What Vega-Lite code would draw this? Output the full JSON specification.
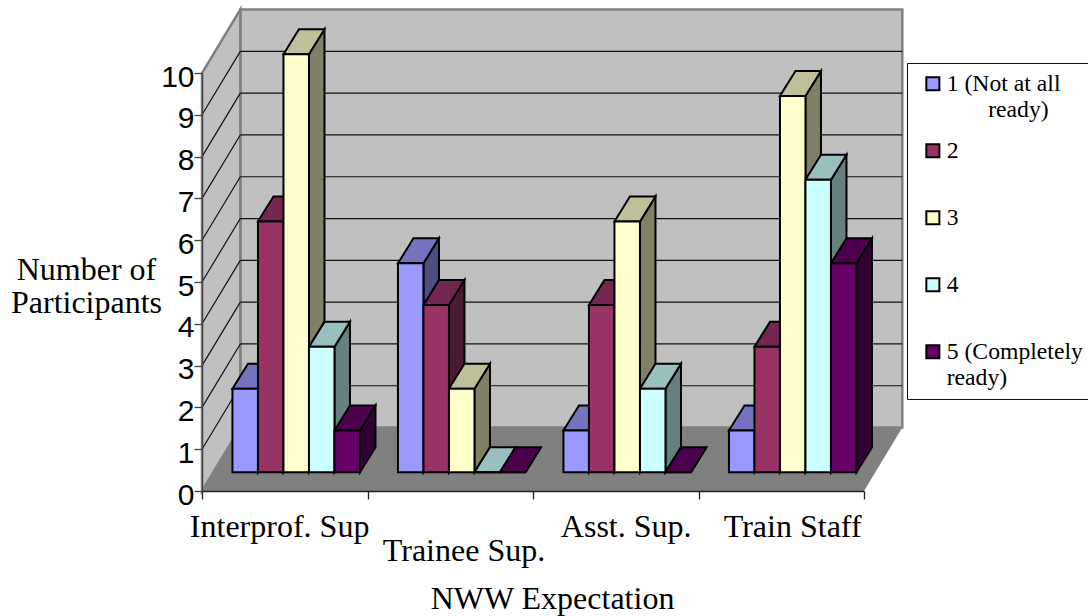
{
  "$schema": "https://vega.github.io/schema/vega-lite/v6.json",
  "width": 662,
  "height": 418,
  "autosize": "none",
  "padding": {"left": 202, "top": 73, "right": 224, "bottom": 125},
  "background": "white",
  "config": {"view": {"stroke": null}},
  "params": [
    {"name": "wallDx", "value": 0.2315},
    {"name": "wallDy", "value": 1.518},
    {"name": "groupStart", "value": 0.184},
    {"name": "barW", "value": 0.1541},
    {"name": "barBase", "value": 0.448},
    {"name": "barDx", "value": 0.0937},
    {"name": "barDy", "value": 0.5985}
  ],
  "datasets": {
    "planes": [{"depth": 0}, {"depth": 1}],
    "levels": [{"level": 1}, {"level": 2}, {"level": 3}, {"level": 4}, {"level": 5}, {"level": 6}, {"level": 7}, {"level": 8}, {"level": 9}],
    "bars": [
      {"expectation": "Interprof. Sup", "group": 0, "rating": 1, "participants": 2},
      {"expectation": "Interprof. Sup", "group": 0, "rating": 2, "participants": 6},
      {"expectation": "Interprof. Sup", "group": 0, "rating": 3, "participants": 10},
      {"expectation": "Interprof. Sup", "group": 0, "rating": 4, "participants": 3},
      {"expectation": "Interprof. Sup", "group": 0, "rating": 5, "participants": 1},
      {"expectation": "Trainee Sup.", "group": 1, "rating": 1, "participants": 5},
      {"expectation": "Trainee Sup.", "group": 1, "rating": 2, "participants": 4},
      {"expectation": "Trainee Sup.", "group": 1, "rating": 3, "participants": 2},
      {"expectation": "Trainee Sup.", "group": 1, "rating": 4, "participants": 0},
      {"expectation": "Trainee Sup.", "group": 1, "rating": 5, "participants": 0},
      {"expectation": "Asst. Sup.", "group": 2, "rating": 1, "participants": 1},
      {"expectation": "Asst. Sup.", "group": 2, "rating": 2, "participants": 4},
      {"expectation": "Asst. Sup.", "group": 2, "rating": 3, "participants": 6},
      {"expectation": "Asst. Sup.", "group": 2, "rating": 4, "participants": 2},
      {"expectation": "Asst. Sup.", "group": 2, "rating": 5, "participants": 0},
      {"expectation": "Train Staff", "group": 3, "rating": 1, "participants": 1},
      {"expectation": "Train Staff", "group": 3, "rating": 2, "participants": 3},
      {"expectation": "Train Staff", "group": 3, "rating": 3, "participants": 9},
      {"expectation": "Train Staff", "group": 3, "rating": 4, "participants": 7},
      {"expectation": "Train Staff", "group": 3, "rating": 5, "participants": 5}
    ]
  },
  "encoding": {
    "x": {
      "field": "x",
      "type": "quantitative",
      "stack": null,
      "scale": {"domain": [0, 4], "nice": false, "zero": false},
      "axis": {
        "values": [0, 0.466, 1, 1.58, 2, 2.56, 3, 3.566, 4],
        "labelExpr": "datum.value == 0.466 ? 'Interprof. Sup' : datum.value == 1.58 ? 'Trainee Sup.' : datum.value == 2.56 ? 'Asst. Sup.' : datum.value == 3.566 ? 'Train Staff' : ''",
        "labelFont": "Liberation Serif",
        "labelFontSize": 32,
        "labelColor": "black",
        "labelOverlap": false,
        "labelBound": false,
        "labelFlush": false,
        "labelPadding": {"condition": {"test": "datum.value == 1.58", "value": 61}, "value": 37},
        "labelBaseline": "alphabetic",
        "labelAngle": 0,
        "tickSize": 8,
        "tickWidth": 1.3,
        "tickColor": "#222222",
        "tickOpacity": {"condition": {"test": "datum.value % 1 == 0", "value": 1}, "value": 0},
        "domainColor": "#222222",
        "domainWidth": 1.3,
        "grid": false,
        "zindex": 1,
        "title": "NWW Expectation",
        "titleFont": "Liberation Serif",
        "titleFontSize": 32,
        "titleFontWeight": "normal",
        "titleColor": "black",
        "titleX": 350,
        "titleY": 117,
        "titleBaseline": "alphabetic",
        "titleAlign": "center"
      }
    },
    "y": {
      "field": "y",
      "type": "quantitative",
      "stack": null,
      "scale": {"domain": [0, 10], "nice": false, "zero": false},
      "axis": {
        "values": [0, 1, 2, 3, 4, 5, 6, 7, 8, 9, 10],
        "format": "d",
        "labelFont": "Liberation Sans",
        "labelFontSize": 30,
        "labelColor": "black",
        "labelPadding": 0,
        "labelOffset": 4,
        "labelOverlap": false,
        "labelBound": false,
        "labelFlush": false,
        "tickSize": 8,
        "tickWidth": 1.3,
        "tickColor": "#444444",
        "domainColor": "#444444",
        "domainWidth": 1.3,
        "grid": false,
        "zindex": 1,
        "title": ["Number of", "Participants"],
        "titleFont": "Liberation Serif",
        "titleFontSize": 32,
        "titleFontWeight": "normal",
        "titleColor": "black",
        "titleAngle": 0,
        "titleX": -116,
        "titleY": 206,
        "titleAlign": "center",
        "titleBaseline": "alphabetic",
        "titleLineHeight": 33
      }
    }
  },
  "resolve": {"scale": {"fill": "independent"}},
  "layer": [
    {
      "name": "backWall",
      "data": {"name": "planes"},
      "transform": [
        {"filter": "datum.depth == 1"},
        {"calculate": "wallDx", "as": "x"},
        {"calculate": "4 + wallDx", "as": "x2"},
        {"calculate": "wallDy", "as": "y"},
        {"calculate": "10 + wallDy", "as": "y2"}
      ],
      "mark": {"type": "rect", "fill": "#C0C0C0", "stroke": "#808080", "strokeWidth": 2.5},
      "encoding": {"x2": {"field": "x2"}, "y2": {"field": "y2"}}
    },
    {
      "name": "leftWall",
      "data": {"name": "planes"},
      "transform": [
        {"calculate": "datum.depth * wallDx", "as": "x"},
        {"calculate": "datum.depth * wallDy", "as": "y"},
        {"calculate": "10 + datum.depth * wallDy", "as": "y2"}
      ],
      "mark": {"type": "area", "fill": "#C0C0C0", "stroke": "#808080", "strokeWidth": 2.5, "opacity": 1},
      "encoding": {"y2": {"field": "y2"}}
    },
    {
      "name": "floor",
      "data": {"name": "planes"},
      "transform": [
        {"calculate": "datum.depth * wallDx", "as": "x"},
        {"calculate": "4 + datum.depth * wallDx", "as": "x2"},
        {"calculate": "datum.depth * wallDy", "as": "y"}
      ],
      "mark": {"type": "area", "orient": "horizontal", "fill": "#808080", "opacity": 1},
      "encoding": {"x2": {"field": "x2"}}
    },
    {
      "name": "backGrid",
      "data": {"name": "levels"},
      "transform": [
        {"calculate": "wallDx", "as": "x"},
        {"calculate": "4 + wallDx", "as": "x2"},
        {"calculate": "datum.level + wallDy", "as": "y"}
      ],
      "mark": {"type": "rule", "color": "#111111", "strokeWidth": 1.2},
      "encoding": {"x2": {"field": "x2"}}
    },
    {
      "name": "sideGrid",
      "data": {"name": "levels"},
      "transform": [
        {"calculate": "0", "as": "x"},
        {"calculate": "wallDx", "as": "x2"},
        {"calculate": "datum.level", "as": "y"},
        {"calculate": "datum.level + wallDy", "as": "y2"}
      ],
      "mark": {"type": "rule", "color": "#111111", "strokeWidth": 1.2},
      "encoding": {"x2": {"field": "x2"}, "y2": {"field": "y2"}}
    },
    {
      "name": "barSides",
      "data": {"name": "bars"},
      "transform": [
        {"calculate": "[0, 1]", "as": "corner"},
        {"flatten": ["corner"]},
        {"calculate": "datum.group + groupStart + datum.rating * barW + datum.corner * barDx", "as": "x"},
        {"calculate": "barBase + datum.corner * barDy", "as": "y"},
        {"calculate": "barBase + datum.participants + datum.corner * barDy", "as": "y2"}
      ],
      "mark": {"type": "area", "stroke": "black", "strokeWidth": 2, "strokeJoin": "miter", "opacity": 1},
      "encoding": {
        "y2": {"field": "y2"},
        "detail": {"field": "group", "type": "nominal"},
        "fill": {
          "field": "rating",
          "type": "nominal",
          "legend": null,
          "scale": {"domain": [1, 2, 3, 4, 5], "range": ["#4D4D80", "#4D1A33", "#808066", "#668080", "#330033"]}
        }
      }
    },
    {
      "name": "barTops",
      "data": {"name": "bars"},
      "transform": [
        {"calculate": "[0, 1]", "as": "corner"},
        {"flatten": ["corner"]},
        {"calculate": "datum.group + groupStart + (datum.rating - 1) * barW + datum.corner * barDx", "as": "x"},
        {"calculate": "datum.group + groupStart + datum.rating * barW + datum.corner * barDx", "as": "x2"},
        {"calculate": "barBase + datum.participants + datum.corner * barDy", "as": "y"}
      ],
      "mark": {"type": "area", "orient": "horizontal", "stroke": "black", "strokeWidth": 2, "strokeJoin": "miter", "opacity": 1},
      "encoding": {
        "x2": {"field": "x2"},
        "detail": {"field": "group", "type": "nominal"},
        "fill": {
          "field": "rating",
          "type": "nominal",
          "legend": null,
          "scale": {"domain": [1, 2, 3, 4, 5], "range": ["#7373BF", "#732650", "#BFBF99", "#99BFBF", "#4D004D"]}
        }
      }
    },
    {
      "name": "barFronts",
      "data": {"name": "bars"},
      "transform": [
        {"calculate": "datum.group + groupStart + (datum.rating - 1) * barW", "as": "x"},
        {"calculate": "datum.group + groupStart + datum.rating * barW", "as": "x2"},
        {"calculate": "barBase", "as": "y"},
        {"calculate": "barBase + datum.participants", "as": "y2"}
      ],
      "mark": {"type": "rect", "stroke": "black", "strokeWidth": 2},
      "encoding": {
        "x2": {"field": "x2"},
        "y2": {"field": "y2"},
        "fill": {
          "field": "rating",
          "type": "nominal",
          "scale": {"domain": [1, 2, 3, 4, 5], "range": ["#9999FF", "#993366", "#FFFFCC", "#CCFFFF", "#660066"]},
          "legend": {
            "orient": "none",
            "legendX": 705,
            "legendY": -10,
            "title": null,
            "padding": 9,
            "fillColor": "white",
            "strokeColor": "#111111",
            "gridAlign": "all",
            "rowPadding": 16,
            "symbolType": "square",
            "symbolSize": 170,
            "symbolOffset": 5,
            "symbolStrokeColor": "black",
            "symbolStrokeWidth": 2,
            "labelFont": "Liberation Serif",
            "labelFontSize": 23.7,
            "labelColor": "black",
            "labelOffset": 2,
            "labelLimit": 300,
            "labelExpr": "datum.value == 1 ? ['1 (Not at all', '\u200b\u00a0\u00a0\u00a0\u00a0\u00a0\u00a0\u00a0ready)'] : datum.value == 5 ? ['5 (Completely', 'ready)'] : datum.label"
          }
        }
      }
    }
  ]
}
